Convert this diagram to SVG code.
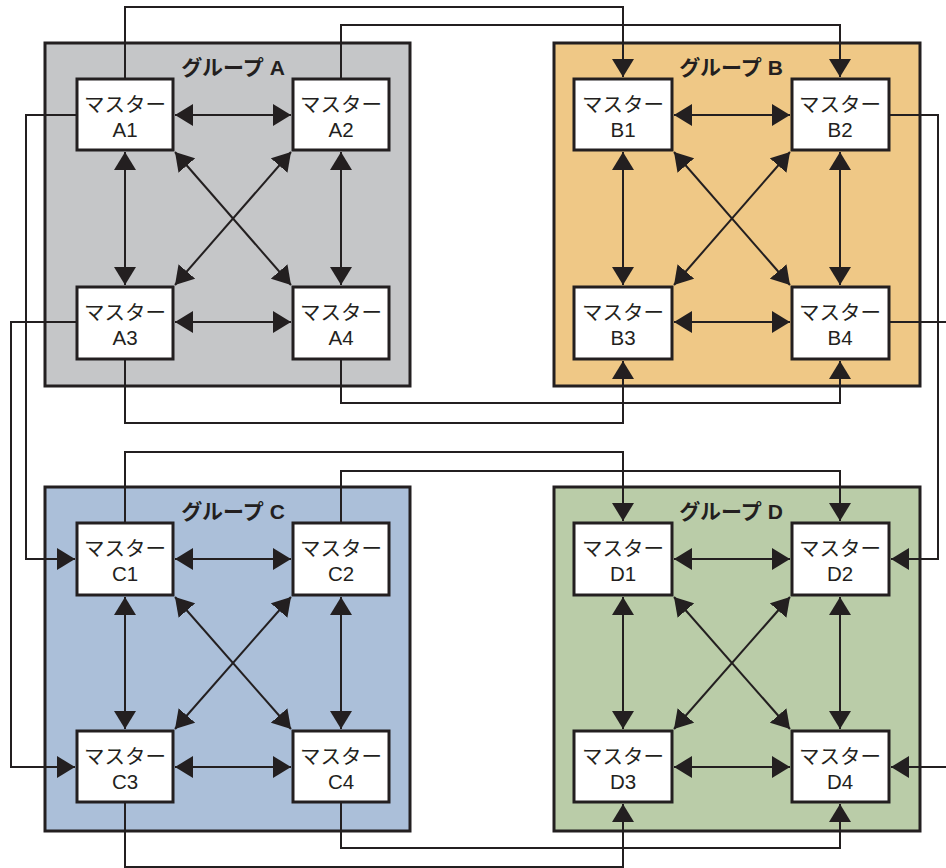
<svg xmlns="http://www.w3.org/2000/svg" width="946" height="868" viewBox="0 0 946 868">
<defs>
<marker id="ah" markerUnits="userSpaceOnUse" markerWidth="18" markerHeight="22" refX="18" refY="11" orient="auto-start-reverse" viewBox="0 0 18 22">
<path d="M0,0 L18,11 L0,22 Z" fill="#231f20"/>
</marker>
<style>
.grp{stroke:#231f20;stroke-width:3}
.node rect{fill:#fff;stroke:#231f20;stroke-width:3}
.node text{font-family:"Liberation Sans","Noto Sans CJK JP",sans-serif;font-size:20.5px;fill:#231f20;text-anchor:middle}
.title{font-family:"Liberation Sans","Noto Sans CJK JP",sans-serif;font-size:21px;font-weight:bold;fill:#231f20;text-anchor:middle}
.c line,.c path{stroke:#231f20;stroke-width:2;fill:none}
.d{marker-start:url(#ah);marker-end:url(#ah)}
.e{marker-end:url(#ah)}
</style>
</defs>
<rect width="946" height="868" fill="#fff"/>
<g id="groupA"><rect class="grp" x="45" y="43" width="365" height="343" fill="#c5c6c8"/><text class="title" x="233" y="75">グループ A</text></g>
<g id="groupB"><rect class="grp" x="554" y="43" width="366" height="343" fill="#efc886"/><text class="title" x="731" y="75">グループ B</text></g>
<g id="groupC"><rect class="grp" x="45" y="487" width="365" height="344" fill="#abbfd9"/><text class="title" x="233" y="519">グループ C</text></g>
<g id="groupD"><rect class="grp" x="554" y="487" width="366" height="344" fill="#bacca8"/><text class="title" x="731" y="519">グループ D</text></g>

<g class="c" id="connectors">
<line class="d" x1="175" y1="115" x2="291" y2="115"/>
<line class="d" x1="175" y1="322" x2="291" y2="322"/>
<line class="d" x1="125" y1="152" x2="125" y2="285"/>
<line class="d" x1="341" y1="152" x2="341" y2="285"/>
<line class="d" x1="175" y1="152" x2="291" y2="285"/>
<line class="d" x1="291" y1="152" x2="175" y2="285"/>
<line class="d" x1="674" y1="115" x2="790" y2="115"/>
<line class="d" x1="674" y1="322" x2="790" y2="322"/>
<line class="d" x1="623" y1="152" x2="623" y2="285"/>
<line class="d" x1="840" y1="152" x2="840" y2="285"/>
<line class="d" x1="674" y1="152" x2="790" y2="285"/>
<line class="d" x1="790" y1="152" x2="674" y2="285"/>
<line class="d" x1="175" y1="559" x2="291" y2="559"/>
<line class="d" x1="175" y1="767" x2="291" y2="767"/>
<line class="d" x1="125" y1="597" x2="125" y2="729"/>
<line class="d" x1="341" y1="597" x2="341" y2="729"/>
<line class="d" x1="175" y1="597" x2="291" y2="729"/>
<line class="d" x1="291" y1="597" x2="175" y2="729"/>
<line class="d" x1="674" y1="559" x2="790" y2="559"/>
<line class="d" x1="674" y1="767" x2="790" y2="767"/>
<line class="d" x1="623" y1="597" x2="623" y2="729"/>
<line class="d" x1="840" y1="597" x2="840" y2="729"/>
<line class="d" x1="674" y1="597" x2="790" y2="729"/>
<line class="d" x1="790" y1="597" x2="674" y2="729"/>
<path class="e" d="M125,79 V7 H623 V77"/>
<path class="e" d="M341,79 V25 H840 V77"/>
<path class="e" d="M77,115 H26 V559 H75"/>
<path class="e" d="M77,322 H11 V767 H75"/>
<path class="e" d="M125,359 V423 H623 V361"/>
<path class="e" d="M341,359 V403 H840 V361"/>
<path class="e" d="M889,115 H938 V559 H891"/>
<path class="e" d="M889,322 H960 V767 H891"/>
<path class="e" d="M125,523 V452 H623 V521"/>
<path class="e" d="M341,523 V471 H840 V521"/>
<path class="e" d="M125,802 V867 H623 V804"/>
<path class="e" d="M341,802 V848 H840 V804"/>
</g>

<g id="A1" class="node"><rect x="77" y="79" width="96" height="71"/><text x="125" y="112">マスター</text><text x="125" y="137">A1</text></g>
<g id="A2" class="node"><rect x="293" y="79" width="96" height="71"/><text x="341" y="112">マスター</text><text x="341" y="137">A2</text></g>
<g id="A3" class="node"><rect x="77" y="287" width="96" height="72"/><text x="125" y="320">マスター</text><text x="125" y="345">A3</text></g>
<g id="A4" class="node"><rect x="293" y="287" width="96" height="72"/><text x="341" y="320">マスター</text><text x="341" y="345">A4</text></g>
<g id="B1" class="node"><rect x="574" y="79" width="98" height="71"/><text x="623" y="112">マスター</text><text x="623" y="137">B1</text></g>
<g id="B2" class="node"><rect x="792" y="79" width="97" height="71"/><text x="840" y="112">マスター</text><text x="840" y="137">B2</text></g>
<g id="B3" class="node"><rect x="574" y="287" width="98" height="72"/><text x="623" y="320">マスター</text><text x="623" y="345">B3</text></g>
<g id="B4" class="node"><rect x="792" y="287" width="97" height="72"/><text x="840" y="320">マスター</text><text x="840" y="345">B4</text></g>
<g id="C1" class="node"><rect x="77" y="523" width="96" height="72"/><text x="125" y="556">マスター</text><text x="125" y="581">C1</text></g>
<g id="C2" class="node"><rect x="293" y="523" width="96" height="72"/><text x="341" y="556">マスター</text><text x="341" y="581">C2</text></g>
<g id="C3" class="node"><rect x="77" y="731" width="96" height="71"/><text x="125" y="764">マスター</text><text x="125" y="789">C3</text></g>
<g id="C4" class="node"><rect x="293" y="731" width="96" height="71"/><text x="341" y="764">マスター</text><text x="341" y="789">C4</text></g>
<g id="D1" class="node"><rect x="574" y="523" width="98" height="72"/><text x="623" y="556">マスター</text><text x="623" y="581">D1</text></g>
<g id="D2" class="node"><rect x="792" y="523" width="97" height="72"/><text x="840" y="556">マスター</text><text x="840" y="581">D2</text></g>
<g id="D3" class="node"><rect x="574" y="731" width="98" height="71"/><text x="623" y="764">マスター</text><text x="623" y="789">D3</text></g>
<g id="D4" class="node"><rect x="792" y="731" width="97" height="71"/><text x="840" y="764">マスター</text><text x="840" y="789">D4</text></g>
</svg>
